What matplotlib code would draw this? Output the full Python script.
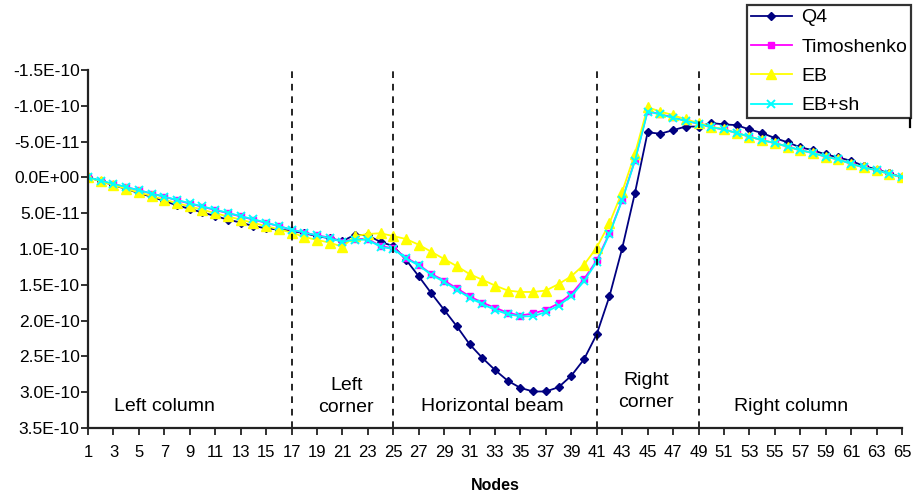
import numpy as np
import matplotlib
matplotlib.use("Agg")
import matplotlib.pyplot as plt
from matplotlib.ticker import FuncFormatter
from matplotlib.lines import Line2D

plt.rcParams['font.family'] = ['Liberation Sans', 'DejaVu Sans']

# displacement values, in units of 1e-11 (positive = down)
scale = 1e-11
nodes = list(range(1, 66))

q4 = [0, 0.5, 1.1, 1.6, 2.2, 2.7, 3.3, 3.9, 4.4, 4.9, 5.4, 5.9, 6.3, 6.8, 7.1, 7.3, 7.45,
      7.8, 8.2, 8.5, 8.9, 8.0, 8.1, 9.0, 9.6,
      11.5, 13.8, 16.2, 18.5, 20.8, 23.3, 25.2, 26.9, 28.4, 29.4, 29.9, 29.9, 29.3, 27.7, 25.4, 21.9,
      16.6, 9.9, 2.2, -6.3, -6.1, -6.6, -7.1, -7.1,
      -7.6, -7.4, -7.3, -6.7, -6.2, -5.5, -4.9, -4.2, -3.8, -3.2, -2.8, -2.3, -1.6, -1.1, -0.6, 0]

timoshenko = [0, 0.5, 0.95, 1.35, 1.8, 2.25, 2.7, 3.2, 3.65, 4.1, 4.55, 5.0, 5.45, 5.9, 6.35, 6.8, 7.3,
              7.7, 8.1, 8.4, 9.0, 8.6, 8.6, 9.6, 9.9,
              11.2, 12.2, 13.5, 14.4, 15.5, 16.6, 17.5, 18.2, 18.9, 19.3, 19.0, 18.5, 17.6, 16.3, 14.2, 11.6,
              7.8, 3.1, -2.4, -9.3, -8.8, -8.4, -7.9, -7.5,
              -7.0, -6.7, -6.2, -5.7, -5.2, -4.8, -4.3, -3.8, -3.4, -2.9, -2.5, -1.9, -1.4, -1.0, -0.5, 0]

eb = [0, 0.55, 1.05, 1.6, 2.1, 2.6, 3.1, 3.6, 4.05, 4.5, 5.0, 5.45, 5.9, 6.35, 6.8, 7.25, 7.7,
      8.3, 8.75, 9.1, 9.7, 8.2, 7.9, 7.8, 8.2,
      8.6, 9.4, 10.4, 11.4, 12.4, 13.5, 14.3, 15.1, 15.8, 16.0, 16.0, 15.8, 14.9, 13.8, 12.2, 9.8,
      6.4, 2.0, -3.3, -9.8, -9.2, -8.7, -8.1, -7.6,
      -7.1, -6.7, -6.2, -5.7, -5.2, -4.8, -4.3, -3.8, -3.4, -2.9, -2.5, -1.9, -1.4, -1.0, -0.5, 0]

eb_sh = [0, 0.45, 0.9, 1.35, 1.8, 2.25, 2.7, 3.15, 3.6, 4.05, 4.5, 4.95, 5.4, 5.85, 6.3, 6.8, 7.3,
         7.7, 8.1, 8.5, 9.0, 8.7, 8.7, 9.7, 10.0,
         11.3, 12.3, 13.6, 14.6, 15.7, 16.8, 17.7, 18.5, 19.1, 19.4, 19.4, 18.8, 17.9, 16.6, 14.5, 11.8,
         7.9, 3.2, -2.3, -9.2, -8.8, -8.3, -7.9, -7.5,
         -7.0, -6.7, -6.2, -5.7, -5.2, -4.8, -4.3, -3.8, -3.4, -2.9, -2.5, -1.9, -1.4, -1.0, -0.5, 0]

boundaries = [17, 25, 41, 49]
regions = ['Left column', 'Left\ncorner', 'Horizontal beam', 'Right\ncorner', 'Right column']
region_x = [7.0, 21.3, 32.8, 44.9, 56.3]
region_y = [0.059, 0.088, 0.059, 0.103, 0.059]

fig = plt.figure(figsize=(9.15, 4.94), dpi=100)
ax = fig.add_axes([88/915, 1-428/494, (902-88)/915, (428-70)/494])

s = np.array
ax.plot(nodes, s(q4)*scale, color='#000080', marker='D', ms=4.5, lw=1.3, label='Q4')
ax.plot(nodes, s(timoshenko)*scale, color='#FF00FF', marker='s', ms=4, lw=1.3, label='Timoshenko')
ax.plot(nodes, s(eb)*scale, color='#FFFF00', marker='^', ms=7.5, lw=1.3, label='EB')
ax.plot(nodes, s(eb_sh)*scale, color='#00FFFF', marker='x', ms=5.5, mew=1.4, lw=1.3, label='EB+sh')

for b in boundaries:
    ax.axvline(b, color='black', lw=1.2, ls=(0, (4, 3.5)))

for txt, xx, yy in zip(regions, region_x, region_y):
    ax.text(xx, yy, txt, transform=ax.get_xaxis_transform(), ha='center', va='center',
            fontsize=14, linespacing=1.4)

ax.set_xlim(1, 65)
ax.set_ylim(35e-11, -15e-11)
ax.set_xticks(range(1, 66, 2))
ax.set_yticks([v*scale for v in range(-15, 40, 5)])
ax.yaxis.set_major_formatter(FuncFormatter(lambda v, p: '%.1E' % v))

for sp in ['top', 'right']:
    ax.spines[sp].set_visible(False)
for sp in ['left', 'bottom']:
    ax.spines[sp].set_linewidth(1.6)
    ax.spines[sp].set_color('#222222')
ax.tick_params(axis='both', direction='out', length=5, width=1.3, color='#222222')
ax.tick_params(axis='y', labelsize=12.5, pad=1)
ax.tick_params(axis='x', labelsize=12, pad=7)

ax.set_xlabel('Nodes', fontsize=11.5, fontweight='bold', labelpad=13)

leg = fig.legend(loc='upper left', bbox_to_anchor=(747/915, 1-5/494), borderaxespad=0,
                 fontsize=14, frameon=True, fancybox=False, edgecolor='black',
                 handlelength=2.1, handletextpad=0.5, labelspacing=0.6, borderpad=0.2)
leg.get_frame().set_linewidth(1.6)
fig.add_artist(Line2D([910/915, 910/915], [1-118/494, 1-127/494], color='black', lw=1.6))

fig.savefig('out.png', dpi=100)
